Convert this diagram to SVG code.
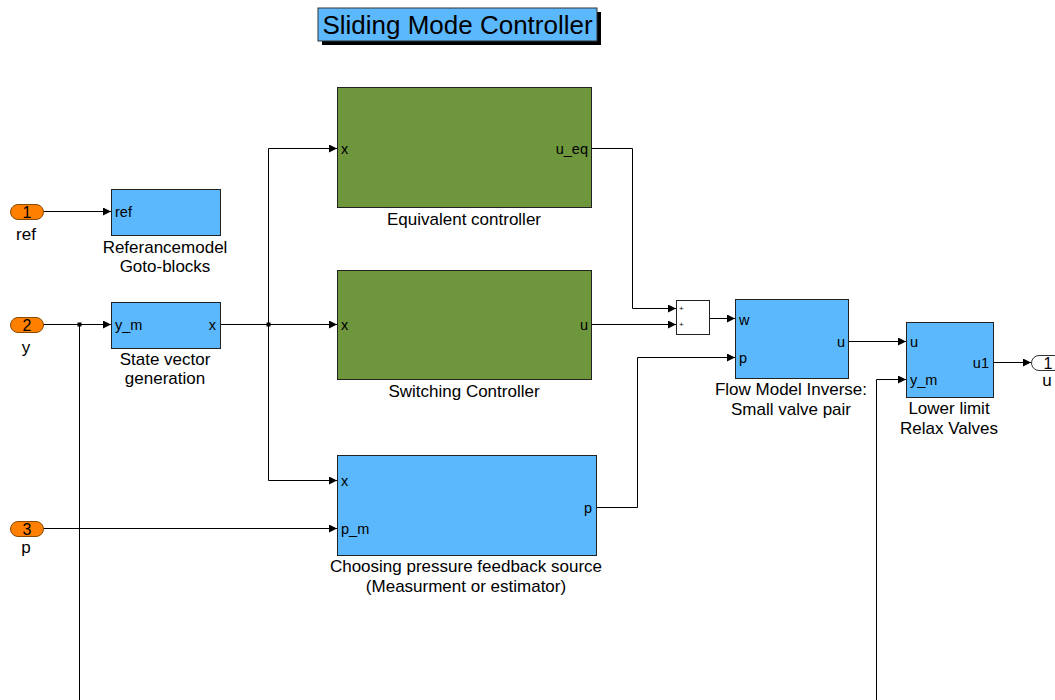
<svg xmlns="http://www.w3.org/2000/svg" width="1055" height="700" viewBox="0 0 1055 700">
<defs>
<marker id="arr" viewBox="0 0 10 10" refX="10" refY="5" markerWidth="9" markerHeight="8" markerUnits="userSpaceOnUse" orient="auto">
<path d="M0,0 L10,5 L0,10 z" fill="#000"/>
</marker>
</defs>
<style>
text{font-family:"Liberation Sans",Arial,sans-serif;fill:#000}
.blue{fill:#5cb8fc;stroke:#222;stroke-width:1}
.green{fill:#6e963c;stroke:#222;stroke-width:1}
.port{fill:#ff8000;stroke:#8a4a00;stroke-width:1}
.lbl{font-size:17px;text-anchor:middle}
.pl{font-size:14.5px}
.pr{font-size:14.5px;text-anchor:end}
.num{font-size:16px;text-anchor:middle}
.w{fill:none;stroke:#000;stroke-width:1}
.a{marker-end:url(#arr)}
.dot{fill:#000}
</style>
<rect width="1055" height="700" fill="#fff"/>

<g id="title">
<rect x="322" y="12" width="279" height="33" fill="#000"/>
<rect x="318" y="8" width="279" height="33" fill="#5cb8fc" stroke="#333"/>
<text x="457.5" y="34" font-size="26" text-anchor="middle">Sliding Mode Controller</text>
</g>

<g id="connectors">
<path class="w a" d="M43,211.5 H111"/>
<path class="w a" d="M43,324.5 H111"/>
<path class="w" d="M79.5,324.5 V700"/>
<path class="w a" d="M220,324.5 H337"/>
<path class="w a" d="M268.5,324.5 V148.5 H337"/>
<path class="w a" d="M268.5,324.5 V480.5 H337"/>
<path class="w a" d="M43,528.5 H337"/>
<path class="w a" d="M591,148.5 H632.5 V308.5 H676"/>
<path class="w a" d="M591,324.5 H676"/>
<path class="w a" d="M709,318.5 H735"/>
<path class="w a" d="M596,507.5 H637.5 V357.5 H735"/>
<path class="w a" d="M848,341.5 H906"/>
<path class="w a" d="M876.5,700 V379.5 H906"/>
<path class="w a" d="M993,362.5 H1031"/>
<rect class="dot" x="77.5" y="322.5" width="4" height="4"/>
<rect class="dot" x="266.5" y="322.5" width="4" height="4"/>
</g>

<g id="in1">
<rect class="port" x="10.5" y="204.5" width="33" height="15" rx="7.5"/>
<text class="num" x="27" y="217.5">1</text>
<text class="lbl" x="26" y="240">ref</text>
</g>
<g id="in2">
<rect class="port" x="10.5" y="317.5" width="33" height="15" rx="7.5"/>
<text class="num" x="27" y="330.5">2</text>
<text class="lbl" x="26" y="353">y</text>
</g>
<g id="in3">
<rect class="port" x="10.5" y="521.5" width="33" height="15" rx="7.5"/>
<text class="num" x="27" y="534.5">3</text>
<text class="lbl" x="26" y="553">p</text>
</g>

<g id="refmodel">
<rect class="blue" x="111.5" y="189.5" width="109" height="46"/>
<text class="pl" x="115" y="216.5">ref</text>
<text class="lbl" x="165" y="253">Referancemodel</text>
<text class="lbl" x="165" y="272">Goto-blocks</text>
</g>

<g id="statevec">
<rect class="blue" x="111.5" y="302.5" width="109" height="46"/>
<text class="pl" x="115" y="329.5">y_m</text>
<text class="pr" x="216" y="329.5">x</text>
<text class="lbl" x="165" y="365">State vector</text>
<text class="lbl" x="165" y="384">generation</text>
</g>

<g id="eqctrl">
<rect class="green" x="337.5" y="87.5" width="254" height="120"/>
<text class="pl" x="341" y="153.5">x</text>
<text class="pr" x="588" y="153.5">u_eq</text>
<text class="lbl" x="464" y="225">Equivalent controller</text>
</g>

<g id="swctrl">
<rect class="green" x="337.5" y="270.5" width="254" height="109"/>
<text class="pl" x="341" y="329.5">x</text>
<text class="pr" x="588" y="329.5">u</text>
<text class="lbl" x="464" y="397">Switching Controller</text>
</g>

<g id="choosing">
<rect class="blue" x="337.5" y="455.5" width="259" height="100"/>
<text class="pl" x="341" y="485.5">x</text>
<text class="pl" x="341" y="533.5">p_m</text>
<text class="pr" x="592" y="512.5">p</text>
<text class="lbl" x="466" y="572">Choosing pressure feedback source</text>
<text class="lbl" x="466" y="592">(Measurment or estimator)</text>
</g>

<g id="sum">
<rect x="676.5" y="300.5" width="33" height="34" fill="#fff" stroke="#222"/>
<text x="679" y="311" font-size="8">+</text>
<text x="679" y="327" font-size="8">+</text>
</g>

<g id="flowinv">
<rect class="blue" x="735.5" y="299.5" width="113" height="79"/>
<text class="pl" x="739" y="324.5">w</text>
<text class="pl" x="739" y="362.5">p</text>
<text class="pr" x="845" y="346.5">u</text>
<text class="lbl" x="791" y="395">Flow Model Inverse:</text>
<text class="lbl" x="791" y="415">Small valve pair</text>
</g>

<g id="lowerlimit">
<rect class="blue" x="906.5" y="322.5" width="87" height="75"/>
<text class="pl" x="910" y="346.5">u</text>
<text class="pl" x="910" y="384.5">y_m</text>
<text class="pr" x="989" y="367.5">u1</text>
<text class="lbl" x="949" y="414">Lower limit</text>
<text class="lbl" x="949" y="434">Relax Valves</text>
</g>

<g id="out1">
<rect x="1031.5" y="355.5" width="33" height="15" rx="7.5" fill="#fff" stroke="#333"/>
<text class="num" x="1048" y="368.5">1</text>
<text class="lbl" x="1047" y="386">u</text>
</g>
</svg>
